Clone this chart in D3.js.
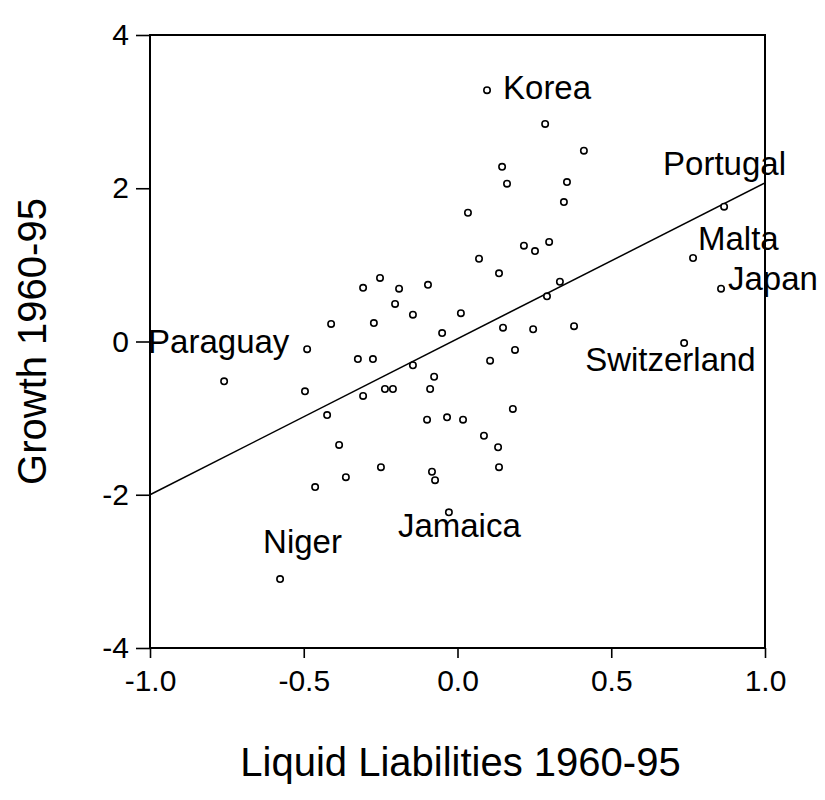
<!DOCTYPE html>
<html>
<head>
<meta charset="utf-8">
<script src="https://cdn.jsdelivr.net/npm/d3@7"></script>
<style>
  html, body { margin: 0; padding: 0; background: #fff; }
  svg { display: block; }
  text { font-family: "Liberation Sans", Arial, Helvetica, sans-serif; fill: #000; }
</style>
</head>
<body>
<svg id="chart" width="825" height="800"></svg>
<script>
// ---------------- DATA ----------------
const liquidLiabilities = [0.096,0.285,0.411,0.145,0.161,0.356,0.346,0.034,0.216,0.252,0.298,0.070,0.135,-0.096,0.333,0.291,0.011,-0.050,0.148,0.246,0.379,0.867,0.766,0.857,0.737,0.187,0.106,-0.076,-0.089,0.180,-0.099,-0.034,0.018,0.086,0.132,0.135,-0.083,-0.073,-0.028,-0.759,-0.489,-0.496,-0.411,-0.272,-0.324,-0.275,-0.145,-0.307,-0.236,-0.210,-0.424,-0.385,-0.463,-0.363,-0.249,-0.577,-0.307,-0.252,-0.190,-0.203,-0.145];
const growth = [3.28,2.84,2.49,2.28,2.06,2.08,1.82,1.68,1.25,1.18,1.30,1.08,0.89,0.74,0.78,0.59,0.37,0.11,0.18,0.16,0.20,1.76,1.09,0.69,-0.02,-0.11,-0.25,-0.46,-0.62,-0.88,-1.02,-0.99,-1.02,-1.23,-1.38,-1.64,-1.70,-1.81,-2.23,-0.52,-0.10,-0.65,0.23,0.24,-0.23,-0.23,-0.31,-0.71,-0.62,-0.62,-0.96,-1.35,-1.90,-1.77,-1.64,-3.10,0.70,0.83,0.69,0.49,0.35];
const countries = ["Korea","","","","","","","","","","","","","","","","","","","","","Portugal","Malta","Japan","Switzerland","","","","","","","","","","","","","","Jamaica","Paraguay","","","","","","","","","","","","","","","","Niger","","","","",""];
const fitX = [-1.0, 1.0];
const fitY = [-2.0, 2.07];
const xTickValues = [-1.0, -0.5, 0.0, 0.5, 1.0];
const xTickLabels = ["-1.0", "-0.5", "0.0", "0.5", "1.0"];
const yTickValues = [-4, -2, 0, 2, 4];
const yTickLabels = ["-4", "-2", "0", "2", "4"];
const xTitle = "Liquid Liabilities 1960-95";
const yTitle = "Growth 1960-95";

// ---------------- STYLE / LAYOUT ----------------
const plot = { left: 150, right: 765, top: 35, bottom: 648 };
const labelOffset = {
  "Korea": [16, 9], "Portugal": [-61, -32], "Malta": [5, -8], "Japan": [7, 1],
  "Switzerland": [-99, 28], "Jamaica": [-51, 25], "Paraguay": [-76, -28], "Niger": [-17, -26]
};

const svg = d3.select("#chart");
const x = d3.scaleLinear().domain([-1, 1]).range([plot.left, plot.right]);
const y = d3.scaleLinear().domain([-4, 4]).range([plot.bottom, plot.top]);

// axes
const xAxis = d3.axisBottom(x).tickValues(xTickValues)
  .tickFormat((d, i) => xTickLabels[i]).tickSize(10).tickPadding(12).tickSizeOuter(0);
const yAxis = d3.axisLeft(y).tickValues(yTickValues)
  .tickFormat((d, i) => yTickLabels[i]).tickSize(14).tickPadding(7).tickSizeOuter(0);

const gx = svg.append("g").attr("transform", `translate(0,${plot.bottom})`).call(xAxis);
const gy = svg.append("g").attr("transform", `translate(${plot.left},0)`).call(yAxis);
[gx, gy].forEach(g => {
  g.select(".domain").remove();
  g.selectAll(".tick line").attr("stroke", "#000").attr("stroke-width", 1.6);
  g.selectAll(".tick text").attr("font-size", 30).attr("fill", "#000")
    .attr("font-family", "Liberation Sans, Arial, sans-serif");
});

// frame
svg.append("rect")
  .attr("x", plot.left).attr("y", plot.top)
  .attr("width", plot.right - plot.left).attr("height", plot.bottom - plot.top)
  .attr("fill", "none").attr("stroke", "#000").attr("stroke-width", 2);

// regression line
const fitData = fitX.map((v, i) => [v, fitY[i]]);
svg.append("path").datum(fitData)
  .attr("d", d3.line().x(d => x(d[0])).y(d => y(d[1])))
  .attr("fill", "none").attr("stroke", "#000").attr("stroke-width", 1.5);

// points
const pts = liquidLiabilities.map((v, i) => ({ x: v, y: growth[i], name: countries[i] }));
svg.append("g").selectAll("circle").data(pts).join("circle")
  .attr("cx", d => x(d.x)).attr("cy", d => y(d.y)).attr("r", 3.2)
  .attr("fill", "#fff").attr("stroke", "#000").attr("stroke-width", 1.6);

// labels
svg.append("g").selectAll("text").data(pts.filter(d => d.name)).join("text")
  .attr("x", d => x(d.x) + labelOffset[d.name][0])
  .attr("y", d => y(d.y) + labelOffset[d.name][1])
  .attr("font-size", 33)
  .text(d => d.name);

// titles
svg.append("text").attr("x", (plot.left + plot.right) / 2 + 3).attr("y", 776)
  .attr("text-anchor", "middle").attr("font-size", 40).text(xTitle);
svg.append("text")
  .attr("transform", `translate(46,${(plot.top + plot.bottom) / 2}) rotate(-90)`)
  .attr("text-anchor", "middle").attr("font-size", 40).text(yTitle);
</script>
</body>
</html>
